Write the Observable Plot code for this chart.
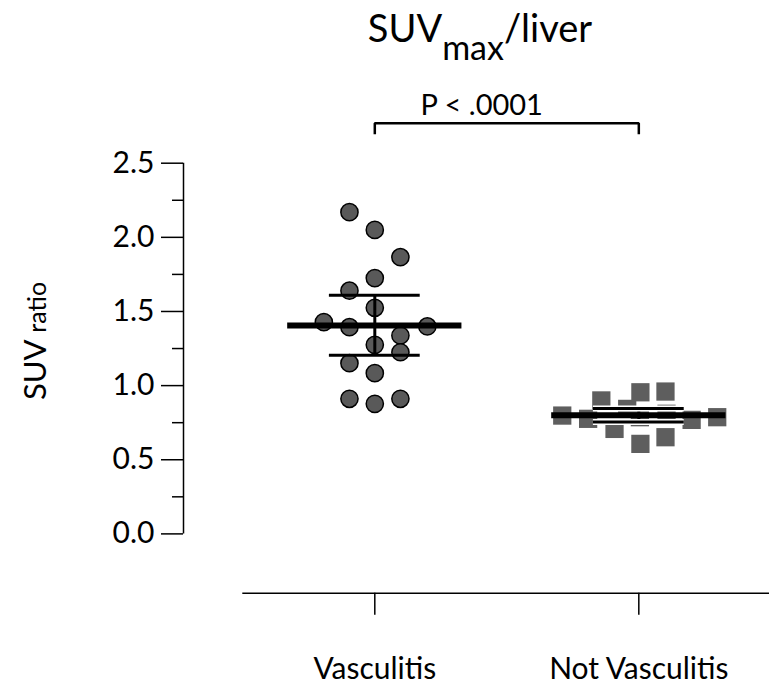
<!DOCTYPE html>
<html>
<head>
<meta charset="utf-8">
<script src="https://cdn.jsdelivr.net/npm/d3@7"></script>
<script src="https://cdn.jsdelivr.net/npm/@observablehq/plot@0.6"></script>
<style>
  html, body { margin: 0; padding: 0; background: #fff; }
  #wrap { position: relative; width: 769px; height: 686px; font-family: Lato, "DejaVu Sans", sans-serif; color: #000; }
  #title { position: absolute; left: 480px; top: 8px; transform: translateX(-50%); white-space: nowrap; font-size: 38px; line-height: 38px; }
  #title .sub { position: relative; top: 18px; font-size: 34px; }
  #ylabel { position: absolute; left: 35px; top: 341px; transform: translate(-50%, -50%) rotate(-90deg); white-space: nowrap; font-size: 31px; line-height: 31px; }
  #ylabel .small { font-size: 25px; }
  #chart { position: absolute; left: 0; top: 0; }
</style>
</head>
<body>
<div id="wrap">
  <div id="chart"></div>
  <div id="title">SUV<span class="sub">max</span>/liver</div>
  <div id="ylabel">SUV <span class="small">ratio</span></div>
</div>
<script>
// ---- data ----
const categories = ["Vasculitis", "Not Vasculitis"];
const groupX = [1, 2];

const vascValues = [2.17, 2.05, 1.866, 1.725, 1.64, 1.525, 1.428, 1.394, 1.399, 1.338, 1.275, 1.225, 1.151, 1.084, 0.911, 0.877, 0.911];
const vascJitter = [-0.096, 0, 0.097, 0, -0.096, 0, -0.193, -0.096, 0.199, 0.097, 0, 0.097, -0.096, 0, -0.096, 0, 0.097];

const notValues = [0.798, 0.776, 0.90, 0.708, 0.843, 0.955, 0.787, 0.607, 0.96, 0.81, 0.652, 0.769, 0.787];
const notJitter = [-0.290, -0.192, -0.142, -0.092, -0.044, 0.006, 0.004, 0.006, 0.101, 0.105, 0.101, 0.200, 0.297];

const meanValues = [1.405, 0.80];
const upperValues = [1.61, 0.845];
const lowerValues = [1.205, 0.755];

const yTicks = [0, 0.5, 1.0, 1.5, 2.0, 2.5];
const yMinorTicks = [0.25, 0.75, 1.25, 1.75, 2.25];

const pLabel = "P < .0001";
const bracketX = [1, 1, 2, 2];
const bracketY = [2.695, 2.77, 2.77, 2.695];
const pLabelX = 1.405;
const pLabelY = 2.822;

// ---- derived tables ----
const vasc = vascValues.map((v, i) => ({x: groupX[0] + vascJitter[i], y: v}));
const notv = notValues.map((v, i) => ({x: groupX[1] + notJitter[i], y: v}));
const summary = groupX.map((g, i) => ({g, mean: meanValues[i], hi: upperValues[i], lo: lowerValues[i]}));
const bracket = bracketX.map((x, i) => ({x, y: bracketY[i]}));

const xMin = 0.2754, xMax = 2.495, yMin = -0.4, yMax = 2.5;
const meanHalf = 0.33, errHalf = 0.172;

const chart = Plot.plot({
  width: 769,
  height: 686,
  marginLeft: 183,
  marginRight: 0,
  marginTop: 162.7,
  marginBottom: 93.3,
  style: {fontFamily: "Lato, 'DejaVu Sans', sans-serif", color: "black", background: "white", fontSize: "30px"},
  x: {domain: [xMin, xMax]},
  y: {domain: [yMin, yMax]},
  marks: [
    // y axis
    Plot.ruleX([xMin], {y1: 0, y2: yMax, stroke: "black", strokeWidth: 1.5}),
    Plot.axisY({ticks: yTicks, tickSize: 22, tickPadding: 7, tickFormat: ".1f", fontSize: 30, strokeWidth: 1.5, label: null}),
    Plot.axisY({ticks: yMinorTicks, tickSize: 11, tickFormat: () => "", strokeWidth: 1.5, label: null}),
    // x axis
    Plot.ruleY([yMin], {x1: 0.5, x2: xMax, stroke: "black", strokeWidth: 1.5}),
    Plot.axisX({ticks: groupX, tickSize: 22, tickPadding: 42, tickFormat: d => categories[d - 1], fontSize: 30, strokeWidth: 1.5, label: null}),
    // points
    Plot.dot(vasc, {x: "x", y: "y", r: 8.6, fill: "#595959", stroke: "black", strokeWidth: 1.5}),
    Plot.dot(notv, {x: "x", y: "y", r: 10.3, symbol: "square", fill: "#5e5e5e", stroke: "none"}),
    // error bars
    Plot.ruleX(summary, {x: "g", y1: "lo", y2: "hi", stroke: "black", strokeWidth: 3}),
    Plot.ruleY(summary.filter(d => d.g === 2), {y: "hi", x1: d => d.g - errHalf, x2: d => d.g + errHalf, stroke: "white", strokeWidth: 6}),
    Plot.ruleY(summary.filter(d => d.g === 2), {y: "lo", x1: d => d.g - errHalf, x2: d => d.g + errHalf, stroke: "white", strokeWidth: 6}),
    Plot.ruleY(summary, {y: "hi", x1: d => d.g - errHalf, x2: d => d.g + errHalf, stroke: "black", strokeWidth: 3}),
    Plot.ruleY(summary, {y: "lo", x1: d => d.g - errHalf, x2: d => d.g + errHalf, stroke: "black", strokeWidth: 3}),
    Plot.ruleY(summary, {y: "mean", x1: d => d.g - meanHalf, x2: d => d.g + meanHalf, stroke: "black", strokeWidth: 6}),
    // significance bracket
    Plot.line(bracket, {x: "x", y: "y", stroke: "black", strokeWidth: 2.5, strokeLinejoin: "miter", strokeLinecap: "butt"}),
    Plot.text([pLabel], {x: pLabelX, y: pLabelY, text: d => d, fontSize: 29, lineAnchor: "bottom", textAnchor: "middle", fill: "black"})
  ]
});
document.getElementById("chart").appendChild(chart);
</script>
</body>
</html>
